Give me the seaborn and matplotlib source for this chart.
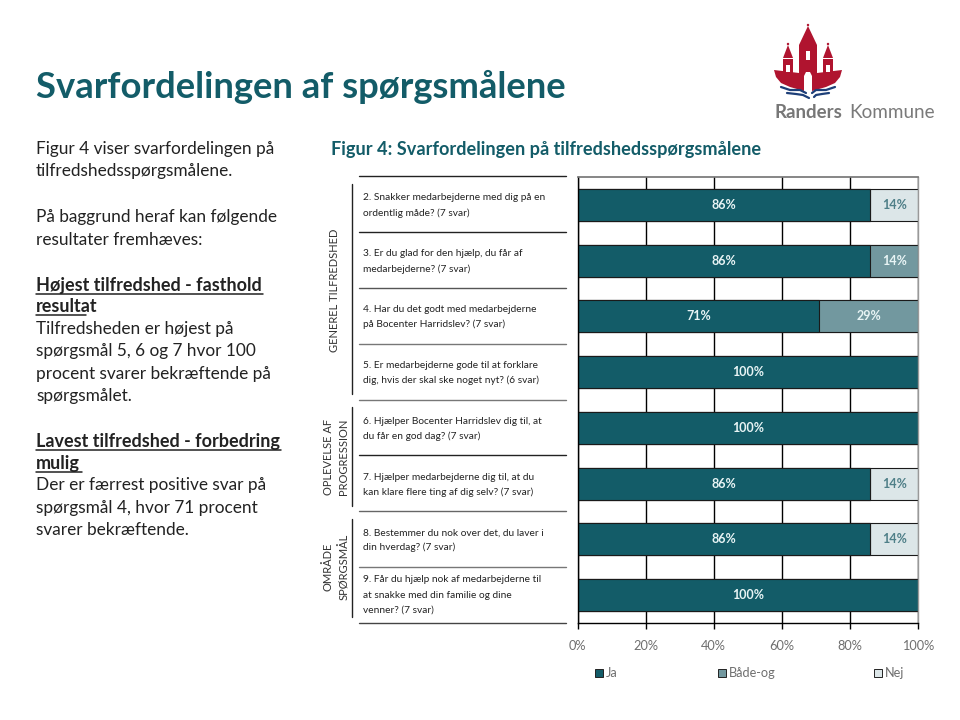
import numpy as np
import pandas as pd
import matplotlib
matplotlib.use("Agg")
import matplotlib.pyplot as plt
from matplotlib.patches import Polygon, Rectangle, Circle
import seaborn as sns

# data
questions = ["2", "3", "4", "5", "6", "7", "8", "9"]
ja = [86, 86, 71, 100, 100, 86, 86, 100]
baade = [0, 14, 29, 0, 0, 0, 0, 0]
nej = [14, 0, 0, 0, 0, 14, 14, 0]
x_ticks = [0, 20, 40, 60, 80, 100]
legend_names = ["Ja", "Både-og", "Nej"]

question_texts = [
    ["2. Snakker medarbejderne med dig på en", "ordentlig måde? (7 svar)"],
    ["3. Er du glad for den hjælp, du får af", "medarbejderne? (7 svar)"],
    ["4. Har du det godt med medarbejderne", "på Bocenter Harridslev? (7 svar)"],
    ["5. Er medarbejderne gode til at forklare", "dig, hvis der skal ske noget nyt? (6 svar)"],
    ["6. Hjælper Bocenter Harridslev dig til, at", "du får en god dag? (7 svar)"],
    ["7. Hjælper medarbejderne dig til, at du", "kan klare flere ting af dig selv? (7 svar)"],
    ["8. Bestemmer du nok over det, du laver i", "din hverdag? (7 svar)"],
    ["9. Får du hjælp nok af medarbejderne til", "at snakke med din familie og dine", "venner? (7 svar)"],
]
question_y = [[198, 213], [253, 269], [310, 324], [365, 380],
              [421, 436], [477, 492], [533, 547], [580, 595, 610]]
rule_y = [176, 232, 288, 344, 400, 455, 511, 567, 623]
rule_col = ["#222222", "#222222", "#555555", "#777777", "#777777", "#222222", "#666666", "#777777", "#444444"]

# left text: (y, text, bold)
left_text = [
    (149, "Figur 4 viser svarfordelingen på", False),
    (171, "tilfredshedsspørgsmålene.", False),
    (217, "På baggrund heraf kan følgende", False),
    (240, "resultater fremhæves:", False),
    (285, "Højest tilfredshed - fasthold", True),
    (306, "resultat", True),
    (329, "Tilfredsheden er højest på", False),
    (351, "spørgsmål 5, 6 og 7 hvor 100", False),
    (374, "procent svarer bekræftende på", False),
    (396, "spørgsmålet.", False),
    (441, "Lavest tilfredshed - forbedring", True),
    (463, "mulig", True),
    (485, "Der er færrest positive svar på", False),
    (508, "spørgsmål 4, hvor 71 procent", False),
    (530, "svarer bekræftende.", False),
]
underlines = [(294, 36, 263), (315, 36, 86), (450, 36, 281), (472, 36, 82)]

TEAL = "#135c68"
MID = "#72989f"
PALE = "#dce6e8"
GREY = "#6f6f6f"

sns.set_theme(style="white")
plt.rcParams["font.family"] = ["Lato", "DejaVu Sans"]

df = pd.DataFrame({"q": questions, "ja": ja, "baade": baade, "nej": nej})
df["ja_baade"] = df["ja"] + df["baade"]
df["total"] = df["ja_baade"] + df["nej"]

fig = plt.figure(figsize=(9.6, 7.2), dpi=100, facecolor="white")

# overlay in pixel coordinates for the slide furniture
bg = fig.add_axes([0, 0, 1, 1])
bg.set_xlim(0, 960)
bg.set_ylim(720, 0)
bg.axis("off")

ax = fig.add_axes([577.5 / 960, 1 - 623 / 720, 340.5 / 960, 446 / 720])
ax.set_axisbelow(True)
ax.grid(axis="x", color="black", lw=1)

# stacked bars, longest first so the shorter ones sit on top
bar_w = 0.574
for col, c in [("total", PALE), ("ja_baade", MID), ("ja", TEAL)]:
    sns.barplot(data=df, y="q", x=col, orient="h", color=c, saturation=1, width=bar_w,
                edgecolor="#1a1a1a", linewidth=0.8, ax=ax)

for i in range(len(questions)):
    ax.text(ja[i] / 2, i, f"{ja[i]}%", color="#e8f4f5", fontsize=9, fontweight="bold",
            ha="center", va="center")
    if baade[i] > 0:
        ax.text(ja[i] + baade[i] / 2, i, f"{baade[i]}%", color="#e8f4f5", fontsize=9,
                fontweight="bold", ha="center", va="center")
    if nej[i] > 0:
        ax.text(ja[i] + baade[i] + nej[i] / 2, i, f"{nej[i]}%", color="#4f7f88", fontsize=9,
                fontweight="bold", ha="center", va="center")

ax.set_xlim(0, 100)
ax.set_ylim(7.5, -0.5)
ax.set_xlabel("")
ax.set_ylabel("")
ax.set_yticks([])
ax.set_xticks(x_ticks)
ax.set_xticklabels([f"{t}%" for t in x_ticks], color=GREY, fontsize=9.2)
ax.tick_params(axis="x", bottom=True, length=4, width=1, color="black", pad=8)
for s in ["left", "right", "bottom"]:
    ax.spines[s].set_color("black")
    ax.spines[s].set_linewidth(1)
ax.spines["top"].set_color("#777777")
ax.spines["right"].set_color("#999999")

# title
bg.text(36, 87, "Svarfordelingen af spørgsmålene", color=TEAL, fontsize=26.2, fontweight="bold",
        va="center", ha="left")
bg.text(331, 149, "Figur 4: Svarfordelingen på tilfredshedsspørgsmålene", color=TEAL, fontsize=13.1,
        fontweight="bold", va="center", ha="left")

# left column
for y, s, b in left_text:
    bg.text(36, y, s, color="#222222", fontsize=13 if b else 12.4, fontweight="bold" if b else "normal",
            va="center", ha="left")
for y, x0, x1 in underlines:
    bg.plot([x0, x1], [y, y], color="#222222", lw=1.1)

# question column
for ys, lines in zip(question_y, question_texts):
    for y, s in zip(ys, lines):
        bg.text(363, y, s, color="#222222", fontsize=7.3, va="center", ha="left")
for y, c in zip(rule_y, rule_col):
    bg.plot([359, 566], [y, y], color=c, lw=1)

# groups
for y0, y1 in [(184, 394), (407, 506), (519, 617)]:
    bg.plot([351.5, 351.5], [y0, y1], color="#222222", lw=1)
bg.text(335, 290, "GENEREL TILFREDSHED", rotation=90, fontsize=8, color="#333333", ha="center", va="center")
bg.text(328, 457, "OPLEVELSE AF", rotation=90, fontsize=8, color="#333333", ha="center", va="center")
bg.text(344, 457, "PROGRESSION", rotation=90, fontsize=8, color="#333333", ha="center", va="center")
bg.text(328, 567, "OMRÅDE", rotation=90, fontsize=8, color="#333333", ha="center", va="center")
bg.text(344, 567, "SPØRGSMÅL", rotation=90, fontsize=8, color="#333333", ha="center", va="center")

# legend
for x, c, s in zip([595, 718, 874], [TEAL, MID, PALE], legend_names):
    bg.add_patch(Rectangle((x, 669), 8, 8, facecolor=c, edgecolor="#222222", lw=0.7))
    bg.text(x + 11, 673, s, color=GREY, fontsize=9.2, va="center", ha="left")

# logo
RED = "#b0142f"
BLUE = "#1d3f78"
bg.add_patch(Rectangle((799, 45), 18, 30, color=RED, lw=0))
bg.add_patch(Polygon([(799, 45), (808, 26), (817, 45)], color=RED, lw=0))
bg.add_patch(Rectangle((783, 59), 10, 15, color=RED, lw=0))
bg.add_patch(Polygon([(783, 58), (788, 45), (793, 58)], color=RED, lw=0))
bg.add_patch(Rectangle((823, 59), 10, 15, color=RED, lw=0))
bg.add_patch(Polygon([(823, 58), (828, 45), (833, 58)], color=RED, lw=0))
for cx, cy in [(808, 25), (788, 44), (828, 44)]:
    bg.add_patch(Circle((cx, cy), 1.2, color=RED, lw=0))
bg.add_patch(Polygon([(774, 70), (799, 73), (817, 73), (842, 70), (840, 77), (835, 83), (826, 87),
                      (812, 91), (804, 91), (790, 87), (781, 83), (776, 77)], color=RED, lw=0))
bg.add_patch(Polygon([(804, 92), (804, 76), (806, 72), (810, 72), (812, 76), (812, 92)], color="white", lw=0))
for x, y, w, h in [(806, 51, 4, 9), (786, 65, 4, 7), (826, 65, 4, 7)]:
    bg.add_patch(Rectangle((x, y), w, h, color="white", lw=0))
bg.plot([781, 790, 800, 806], [87, 90, 90, 93], color=BLUE, lw=1.6)
bg.plot([787, 796, 803, 809], [93, 94, 95, 98], color=BLUE, lw=1.6)
bg.plot([835, 826, 816, 812], [87, 90, 90, 93], color=BLUE, lw=1.6)
bg.plot([829, 822, 816, 814], [93, 94, 95, 97], color=BLUE, lw=1.6)
bg.text(774, 112, "Randers", color="#777777", fontsize=13.4, fontweight="bold", va="center", ha="left")
bg.text(849, 112, "Kommune", color="#7a7a7a", fontsize=13.6, fontweight="normal", va="center", ha="left")

fig.savefig("out.png", dpi=100)
